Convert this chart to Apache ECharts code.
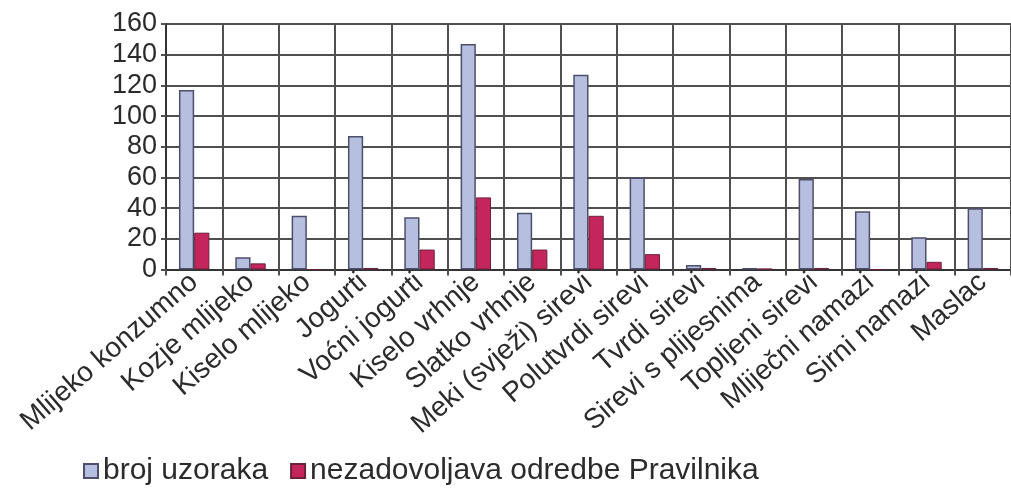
<!DOCTYPE html>
<html>
<head>
<meta charset="utf-8">
<script src="https://cdn.jsdelivr.net/npm/echarts@6/dist/echarts.min.js"></script>
<style>
  html, body { margin: 0; padding: 0; background: #fff; }
  #chart { width: 1011px; height: 497px; }
</style>
</head>
<body>
<div id="chart"></div>
<script>
// Product categories along the x axis
const categories = [
  'Mlijeko konzumno', 'Kozje mlijeko', 'Kiselo mlijeko', 'Jogurti',
  'Voćni jogurti', 'Kiselo vrhnje', 'Slatko vrhnje', 'Meki (svježi) sirevi',
  'Polutvrdi sirevi', 'Tvrdi sirevi', 'Sirevi s plijesnima', 'Topljeni sirevi',
  'Mliječni namazi', 'Sirni namazi', 'Maslac'
];

// Number of samples tested per category
const brojUzoraka = [117, 8, 35, 87, 34, 147, 37, 127, 60, 3, 1, 59, 38, 21, 40];

// Samples not meeting the regulation
const nezadovoljava = [24, 4, 0, 1, 13, 47, 13, 35, 10, 1, 0.5, 1, 0, 5, 1];

const seriesNames = ['broj uzoraka', 'nezadovoljava odredbe Pravilnika'];

const font = 'Liberation Sans, Arial, sans-serif';
const gridColor = '#505050';
const textColor = '#2b2b2b';

const chart = echarts.init(document.getElementById('chart'), null, { renderer: 'canvas' });

chart.setOption({
  backgroundColor: '#fff',
  animation: false,
  grid: { left: 166, top: 24, width: 859, height: 245.5, containLabel: false },
  legend: {
    left: 83,
    top: 456,
    padding: 0,
    icon: 'rect',
    itemWidth: 14,
    itemHeight: 14,
    itemGap: 22,
    textStyle: { fontFamily: font, fontSize: 30, color: textColor },
    data: seriesNames
  },
  xAxis: {
    type: 'category',
    data: categories,
    axisLine: { lineStyle: { color: '#333', width: 2 } },
    axisTick: { show: true, length: 6, lineStyle: { color: gridColor, width: 2 } },
    splitLine: { show: true, lineStyle: { color: gridColor, width: 2 } },
    axisLabel: {
      interval: 0,
      rotate: 41,
      margin: 9,
      fontFamily: font,
      fontSize: 28,
      color: textColor
    }
  },
  yAxis: {
    type: 'value',
    min: 0,
    max: 160,
    interval: 20,
    axisLine: { show: true, lineStyle: { color: '#333', width: 2 } },
    axisTick: { show: true, length: 5, lineStyle: { color: gridColor, width: 2 } },
    splitLine: { show: true, lineStyle: { color: gridColor, width: 2 } },
    axisLabel: { margin: 9, fontFamily: font, fontSize: 27, color: textColor }
  },
  series: [
    {
      name: seriesNames[0],
      type: 'bar',
      data: brojUzoraka,
      barGap: '0%',
      barCategoryGap: '46%',
      itemStyle: { color: '#b6bfdf', borderColor: '#4d4f6b', borderWidth: 1.5 }
    },
    {
      name: seriesNames[1],
      type: 'bar',
      data: nezadovoljava,
      barGap: '0%',
      barCategoryGap: '46%',
      itemStyle: { color: '#c4255c', borderColor: '#6a2238', borderWidth: 1 }
    }
  ]
});
</script>
</body>
</html>
